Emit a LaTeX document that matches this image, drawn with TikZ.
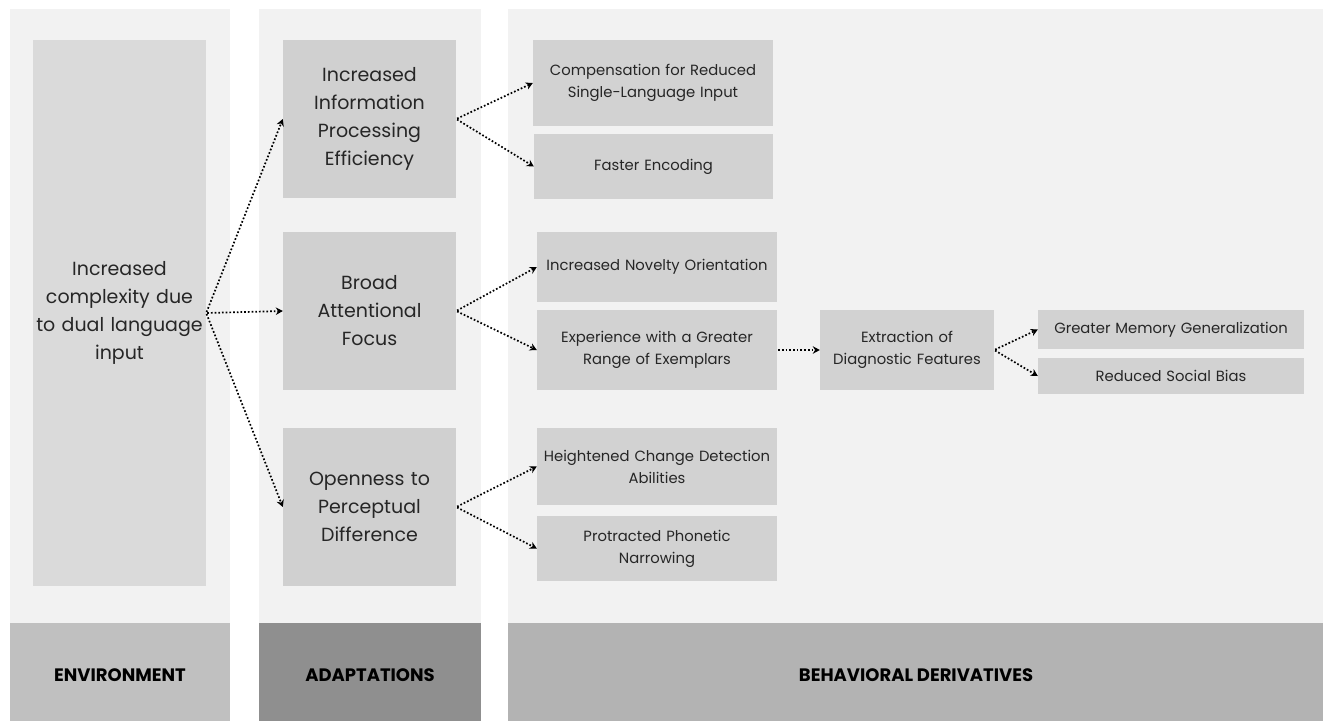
\documentclass[tikz,border=0pt]{standalone}
\usepackage{fontspec}
\setmainfont{Poppins}
\usetikzlibrary{arrows.meta}
\definecolor{panel}{HTML}{F2F2F2}
\definecolor{envbox}{HTML}{DADADA}
\definecolor{adbox}{HTML}{D0D0D0}
\definecolor{bhbox}{HTML}{D2D2D2}
\definecolor{txt}{HTML}{262626}
\definecolor{fenv}{HTML}{C0C0C0}
\definecolor{fad}{HTML}{8F8F8F}
\definecolor{fbh}{HTML}{B3B3B3}
\begin{document}
\begin{tikzpicture}[x=1pt,y=-1pt,
  bigbox/.style={fill=adbox, inner sep=0pt, align=center, text=txt, font=\fontsize{19}{28}\selectfont, minimum width=173pt},
  smallbox/.style={fill=bhbox, inner sep=0pt, align=center, text=txt, font=\fontsize{14.8}{22}\selectfont},
  foot/.style={inner sep=0pt, text=black, font=\bfseries\fontsize{18}{20}\selectfont},
  conn/.style={dotted, line width=1.7pt, -{Stealth[length=7pt,width=7.5pt]}, shorten <=1pt}
]
\useasboundingbox (0,0) rectangle (1323,721);
\fill[white] (0,0) rectangle (1323,721);
% panels
\fill[panel] (10,9) rectangle (230,623);
\fill[panel] (259,9) rectangle (481,623);
\fill[panel] (508,9) rectangle (1323,623);
% footers
\fill[fenv] (10,623) rectangle (230,721);
\fill[fad] (259,623) rectangle (481,721);
\fill[fbh] (508,623) rectangle (1323,721);
\node[foot] (fe) at (120,675) {ENVIRONMENT};
\node[foot] (fa) at (370,675) {ADAPTATIONS};
\node[foot] (fb) at (916,675) {BEHAVIORAL DERIVATIVES};
% environment
\node[bigbox, fill=envbox, minimum height=546pt, text width=172pt] (env) at (119.5,313)
  {Increased\\complexity due\\to dual language\\input};
% adaptations
\node[bigbox, minimum height=158pt, text width=170pt] (a1) at (369.5,119)
  {Increased\\Information\\Processing\\Efficiency};
\node[bigbox, minimum height=158pt, text width=170pt] (a2) at (369.5,311)
  {Broad\\Attentional\\Focus};
\node[bigbox, minimum height=158pt, text width=170pt] (a3) at (369.5,507)
  {Openness to\\Perceptual\\Difference};
% behavioral derivatives
\node[smallbox, minimum width=240pt, minimum height=86pt, text width=238pt] (b1) at (653,83)
  {Compensation for Reduced\\Single-Language Input};
\node[smallbox, minimum width=239pt, minimum height=65pt, text width=237pt] (b2) at (653.5,166.5)
  {Faster Encoding};
\node[smallbox, minimum width=240pt, minimum height=70pt, text width=240pt] (b3) at (657,267)
  {Increased Novelty Orientation};
\node[smallbox, minimum width=240pt, minimum height=80pt, text width=238pt] (b4) at (657,350)
  {Experience with a Greater\\Range of Exemplars};
\node[smallbox, minimum width=240pt, minimum height=77pt, text width=240pt] (b5) at (657,466.5)
  {Heightened Change Detection\\Abilities};
\node[smallbox, minimum width=240pt, minimum height=65pt, text width=238pt] (b6) at (657,548.5)
  {Protracted Phonetic\\Narrowing};
\node[smallbox, minimum width=174pt, minimum height=80pt, text width=172pt] (c1) at (907,350)
  {Extraction of\\Diagnostic Features};
\node[smallbox, minimum width=266pt, minimum height=39pt, text width=264pt] (d1) at (1171,329.5)
  {Greater Memory Generalization};
\node[smallbox, minimum width=266pt, minimum height=36pt, text width=264pt] (d2) at (1171,376)
  {Reduced Social Bias};
% connectors
\draw[conn] (env.east) -- (a1.west);
\draw[conn] (env.east) -- (a2.west);
\draw[conn] (env.east) -- (a3.west);
\draw[conn] (a1.east) -- (b1.west);
\draw[conn] (a1.east) -- (b2.west);
\draw[conn] (a2.east) -- (b3.west);
\draw[conn] (a2.east) -- (b4.west);
\draw[conn] (a3.east) -- (b5.west);
\draw[conn] (a3.east) -- (b6.west);
\draw[conn] (b4.east) -- (c1.west);
\draw[conn] (c1.east) -- (d1.west);
\draw[conn] (c1.east) -- (d2.west);
\end{tikzpicture}
\end{document}
